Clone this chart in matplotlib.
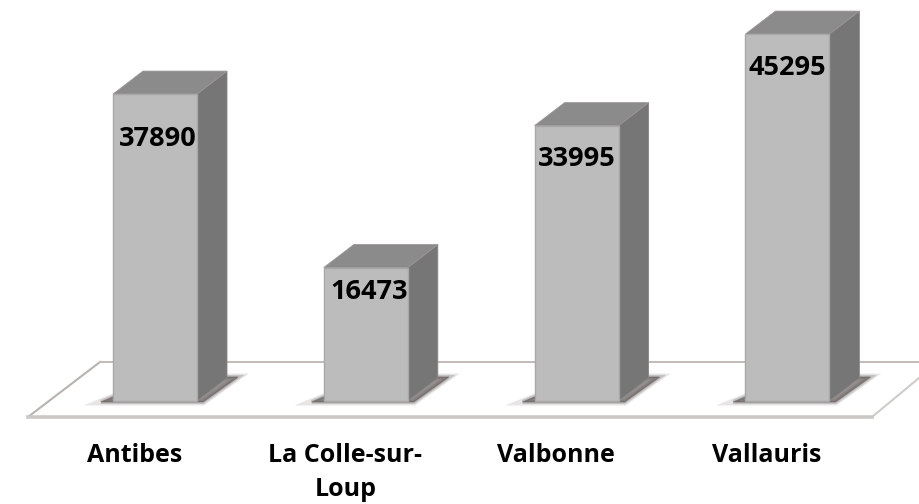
import matplotlib
matplotlib.use('Agg')
import matplotlib.pyplot as plt
from matplotlib.patches import Polygon
import numpy as np

towns = ['Antibes', 'La Colle-sur-\nLoup', 'Valbonne', 'Vallauris']
population = [37890, 16473, 33995, 45295]
label_drop = [45, 24, 33, 34]
label_shift = [3, 3, 0, 0]

plt.rcParams['font.family'] = ['Open Sans', 'DejaVu Sans']

W, H = 919, 504
x_px = 210.8       # pixels per category
y_px = 0.0081      # pixels per inhabitant
dx = 30 / x_px     # depth of the boxes
dy = 23 / y_px
bar_w = 84 / x_px


def px(x, y):
    # offset in pixels to data units
    return x / x_px, y / y_px


fig = plt.figure(figsize=(W / 100, H / 100), dpi=100)
ax = fig.add_axes([0, 0, 1, 1])
ax.set_xlim(-155 / x_px, (W - 155) / x_px)
ax.set_ylim(-(H - 401) / y_px, 401 / y_px)
ax.axis('off')

# floor
_, floor_top = px(0, 39)
_, floor_bot = px(0, -16)
left_front = -127 / x_px
left_back = -55 / x_px
right_front = (872 - 155) / x_px
ax.plot([left_back, left_front], [floor_top, floor_bot], color='#b9b3af', lw=1.5, zorder=1)
ax.plot([right_front, right_front + 47 / x_px], [floor_bot, floor_bot + 39 / y_px],
        color='#d0ccca', lw=1.5, zorder=1)
ax.plot([left_back, ax.get_xlim()[1]], [floor_top, floor_top], color='#c2bbb7', lw=1.4, zorder=1)
ax.plot([left_front, right_front], [floor_bot, floor_bot], color='#cbc8c5', lw=2.6, zorder=1)

x = np.arange(len(towns))
ax.bar(x, population, width=bar_w, color='#bcbcbc', edgecolor='#a8a8a8', lw=1, zorder=4)

for i, v in enumerate(population):
    l, r = i - bar_w / 2, i + bar_w / 2
    # shadow on the floor, stacked to look soft
    sh = [(l - 12 / x_px, -1 / y_px), (r + 6 / x_px, -1 / y_px),
          (r + 41 / x_px, 24 / y_px), (r + 28 / x_px, 24 / y_px), (l, 4 / y_px)]
    for lw, a in [(5, 0.15), (3, 0.25), (1, 0.45)]:
        ax.add_patch(Polygon(sh, closed=True, fc='#5f5857', ec='#5f5857', lw=lw, alpha=a, zorder=2))
    ax.add_patch(Polygon([(r, 0), (r + dx, dy), (r + dx, v + dy), (r, v)],
                         closed=True, fc='#767676', ec='#8a8684', lw=0.6, zorder=3))
    ax.add_patch(Polygon([(l, v), (r, v), (r + dx, v + dy), (l + dx, v + dy)],
                         closed=True, fc='#8b8b8b', ec='#9a9694', lw=0.6, zorder=3))
    ax.annotate(str(v), (i, v), xytext=(label_shift[i] * 0.72, -label_drop[i] * 0.72),
                textcoords='offset points', ha='center', va='center',
                fontsize=19.5, fontweight='bold', color='black', zorder=6)
    ax.text(i - 20.5 / x_px, -42 / y_px, towns[i], ha='center', va='top',
            fontsize=18, fontweight='bold', color='black', linespacing=1.45)

fig.savefig('out.png', dpi=100)
